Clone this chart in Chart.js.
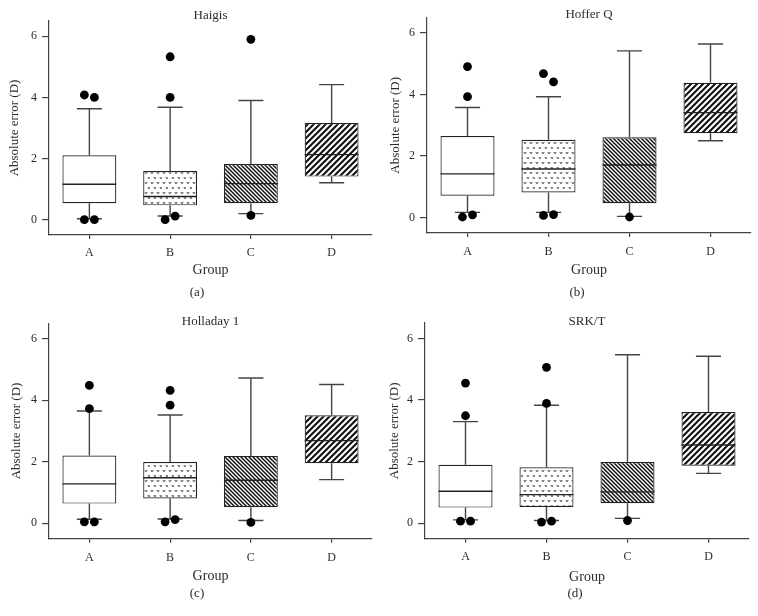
<!DOCTYPE html>
<html>
<head>
<meta charset="utf-8">
<script src="https://cdn.jsdelivr.net/npm/chart.js@4.4.0/dist/chart.umd.min.js"></script>
<style>
body{margin:0;background:#fff;}
#wrap{position:relative;width:758px;height:616px;background:#fff;}
.panel{position:absolute;width:379px;height:308px;}
</style>
</head>
<body>
<div id="wrap">
  <div class="panel" style="left:0;top:0"><canvas id="c0" width="379" height="308"></canvas></div>
  <div class="panel" style="left:379px;top:0"><canvas id="c1" width="379" height="308"></canvas></div>
  <div class="panel" style="left:0;top:308px"><canvas id="c2" width="379" height="308"></canvas></div>
  <div class="panel" style="left:379px;top:308px"><canvas id="c3" width="379" height="308"></canvas></div>
</div>
<script>
var groups = ["A", "B", "C", "D"];
var yTicks = [0, 2, 4, 6];

// Haigis
var haigisLow = [0.03, 0.12, 0.20, 1.21];
var haigisQ1 = [0.54, 0.47, 0.54, 1.41];
var haigisMed = [1.16, 0.76, 1.18, 2.13];
var haigisQ3 = [2.11, 1.59, 1.82, 3.16];
var haigisHigh = [3.63, 3.68, 3.90, 4.42];
var haigisOut = [[4.08, 4.00, 0.00, 0.00], [5.33, 4.00, 0.00, 0.12], [5.90, 0.14], []];

// Hoffer Q
var hofferLow = [0.17, 0.17, 0.04, 2.50];
var hofferQ1 = [0.71, 0.82, 0.47, 2.74];
var hofferMed = [1.42, 1.58, 1.71, 3.41];
var hofferQ3 = [2.65, 2.53, 2.61, 4.38];
var hofferHigh = [3.58, 3.93, 5.42, 5.64];
var hofferOut = [[4.91, 3.93, 0.02, 0.09], [4.68, 4.41, 0.07, 0.10], [0.02], []];

// Holladay 1
var holladayLow = [0.13, 0.14, 0.09, 1.42];
var holladayQ1 = [0.64, 0.81, 0.52, 1.95];
var holladayMed = [1.28, 1.48, 1.40, 2.69];
var holladayQ3 = [2.20, 1.99, 2.19, 3.51];
var holladayHigh = [3.65, 3.52, 4.72, 4.51];
var holladayOut = [[4.48, 3.73, 0.05, 0.05], [4.32, 3.84, 0.05, 0.12], [0.03], []];

// SRK/T
var srktLow = [0.11, 0.09, 0.16, 1.62];
var srktQ1 = [0.51, 0.53, 0.65, 1.87];
var srktMed = [1.04, 0.93, 1.02, 2.54];
var srktQ3 = [1.90, 1.82, 1.99, 3.61];
var srktHigh = [3.30, 3.83, 5.47, 5.42];
var srktOut = [[4.55, 3.49, 0.07, 0.07], [5.06, 3.89, 0.04, 0.07], [0.09], []];

var panels = [
  {id: "c0", name: "Haigis", tag: "(a)", low: haigisLow, q1: haigisQ1, med: haigisMed, q3: haigisQ3, high: haigisHigh, out: haigisOut},
  {id: "c1", name: "Hoffer Q", tag: "(b)", low: hofferLow, q1: hofferQ1, med: hofferMed, q3: hofferQ3, high: hofferHigh, out: hofferOut},
  {id: "c2", name: "Holladay 1", tag: "(c)", low: holladayLow, q1: holladayQ1, med: holladayMed, q3: holladayQ3, high: holladayHigh, out: holladayOut},
  {id: "c3", name: "SRK/T", tag: "(d)", low: srktLow, q1: srktQ1, med: srktMed, q3: srktQ3, high: srktHigh, out: srktOut}
];

// where each plot sits inside its 379x308 cell
var layouts = [
  {left: 49, right: 372, top: 21, bottom: 235, titleY: 15.5, tickY: 253, groupY: 270, capY: 293, capX: 197, yTitleX: 14.7},
  {left: 48, right: 372, top: 17.6, bottom: 233, titleY: 15, tickY: 252, groupY: 270.5, capY: 293, capX: 198, yTitleX: 17},
  {left: 49, right: 372, top: 15.3, bottom: 230.7, titleY: 14, tickY: 250, groupY: 268.5, capY: 285.5, capX: 197, yTitleX: 16.5},
  {left: 46, right: 370, top: 15, bottom: 230.7, titleY: 14, tickY: 249, groupY: 269, capY: 285.5, capX: 196, yTitleX: 15.3}
];

var serif = "'Liberation Serif', 'DejaVu Serif', serif";
var ink = "#2b2b2b";

function tile(w, h, draw) {
  var c = document.createElement("canvas");
  c.width = w; c.height = h;
  var g = c.getContext("2d");
  g.fillStyle = "#fff";
  g.fillRect(0, 0, w, h);
  draw(g);
  return document.createElement("canvas").getContext("2d").createPattern(c, "repeat");
}

var vPattern = tile(6, 10, function(g) {
  g.strokeStyle = "#333"; g.lineWidth = 0.9;
  g.beginPath();
  g.moveTo(0.8, 2); g.lineTo(2, 3.8); g.lineTo(3.2, 2);
  g.moveTo(3.8, 7); g.lineTo(5, 8.8); g.lineTo(6.2, 7);
  g.stroke();
});
var backPattern = tile(4, 4, function(g) {
  g.strokeStyle = "#111"; g.lineWidth = 1.5;
  g.beginPath();
  g.moveTo(-1, -1); g.lineTo(5, 5);
  g.moveTo(-1, 3); g.lineTo(1, 5);
  g.moveTo(3, -1); g.lineTo(5, 1);
  g.stroke();
});
var slashPattern = tile(6, 6, function(g) {
  g.strokeStyle = "#111"; g.lineWidth = 2.1;
  g.beginPath();
  g.moveTo(-1, 7); g.lineTo(7, -1);
  g.moveTo(-1, 1); g.lineTo(1, -1);
  g.moveTo(5, 7); g.lineTo(7, 5);
  g.stroke();
});
var fills = ["#fff", vPattern, backPattern, slashPattern];

// whiskers under the boxes, medians on top
var boxExtras = {
  id: "boxExtras",
  beforeDatasetsDraw: function(chart) {
    var p = chart.config.options.plugins.boxExtras.panel;
    var xs = chart.scales.x, ys = chart.scales.y, ctx = chart.ctx;
    var step = xs.getPixelForValue(1) - xs.getPixelForValue(0);
    ctx.save();
    ctx.strokeStyle = "#444";
    ctx.lineWidth = 1.4;
    for (var i = 0; i < groups.length; i++) {
      var x = xs.getPixelForValue(i);
      var half = step * 0.155;
      ctx.beginPath();
      ctx.moveTo(x, ys.getPixelForValue(p.q3[i])); ctx.lineTo(x, ys.getPixelForValue(p.high[i]));
      ctx.moveTo(x, ys.getPixelForValue(p.q1[i])); ctx.lineTo(x, ys.getPixelForValue(p.low[i]));
      ctx.moveTo(x - half, ys.getPixelForValue(p.high[i])); ctx.lineTo(x + half, ys.getPixelForValue(p.high[i]));
      ctx.moveTo(x - half, ys.getPixelForValue(p.low[i])); ctx.lineTo(x + half, ys.getPixelForValue(p.low[i]));
      ctx.stroke();
    }
    ctx.restore();
  },
  afterDatasetsDraw: function(chart) {
    var p = chart.config.options.plugins.boxExtras.panel;
    var ys = chart.scales.y, ctx = chart.ctx;
    var bars = chart.getDatasetMeta(1).data;
    ctx.save();
    ctx.strokeStyle = "#222";
    ctx.lineWidth = 1.3;
    for (var i = 0; i < bars.length; i++) {
      var b = bars[i];
      var y = ys.getPixelForValue(p.med[i]);
      ctx.beginPath();
      ctx.moveTo(b.x - b.width / 2, y); ctx.lineTo(b.x + b.width / 2, y);
      ctx.stroke();
    }
    ctx.restore();
  }
};

function outlierPoints(out) {
  var pts = [];
  for (var g = 0; g < out.length; g++) {
    var vals = out[g];
    var used = [];
    for (var k = 0; k < vals.length; k++) {
      if (used[k]) continue;
      var mate = -1;
      for (var m = k + 1; m < vals.length; m++) {
        if (!used[m] && Math.abs(vals[m] - vals[k]) < 0.3) { mate = m; break; }
      }
      if (mate >= 0) {
        used[mate] = true;
        pts.push({x: g - 0.062, y: vals[k]});
        pts.push({x: g + 0.062, y: vals[mate]});
      } else {
        pts.push({x: g, y: vals[k]});
      }
    }
  }
  return pts;
}

panels.forEach(function(p, n) {
  var L = layouts[n];
  var padRight = 379 - L.right;
  var padLeft = 2 * L.capX - 379 + padRight;
  var tLine = 13, gLine = 14 * 1.2, sLine = 13 * 1.2, yLine = 13 * 1.2;
  var titlePadTop = L.titleY - tLine / 2;
  var xBottom = L.groupY + gLine / 2;
  var subH = 308 - xBottom;
  var subPadTop = L.capY - xBottom - sLine / 2;

  new Chart(document.getElementById(p.id), {
    type: "bar",
    data: {
      labels: groups,
      datasets: [
        {
          type: "scatter",
          data: outlierPoints(p.out),
          xAxisID: "x2",
          yAxisID: "y",
          backgroundColor: "#000",
          borderColor: "#000",
          pointRadius: 4.4,
          pointBorderWidth: 0,
          order: 0
        },
        {
          type: "bar",
          data: p.q1.map(function(v, i) { return [v, p.q3[i]]; }),
          xAxisID: "x",
          yAxisID: "y",
          backgroundColor: fills,
          borderColor: "#222",
          borderWidth: 1.2,
          borderSkipped: false,
          grouped: false,
          barPercentage: 0.667,
          categoryPercentage: 1,
          order: 1
        }
      ]
    },
    options: {
      responsive: false,
      animation: false,
      events: [],
      layout: {padding: {left: padLeft, right: padRight, top: 0, bottom: 0}},
      plugins: {
        legend: {display: false},
        tooltip: {enabled: false},
        title: {
          display: true, text: p.name, fullSize: false, color: ink,
          font: {family: serif, size: 13, weight: "normal", lineHeight: 1},
          padding: {top: titlePadTop, bottom: L.top - titlePadTop - tLine}
        },
        subtitle: {
          display: true, position: "bottom", text: p.tag, color: ink,
          font: {family: serif, size: 13, weight: "normal", lineHeight: 1.2},
          padding: {top: subPadTop, bottom: subH - sLine - subPadTop}
        },
        boxExtras: {panel: p}
      },
      scales: {
        x: {
          type: "category",
          offset: true,
          afterFit: function(s) { s.height = xBottom - L.bottom; },
          grid: {display: true, offset: false, drawOnChartArea: false, drawTicks: true, tickLength: 4, color: "#444", lineWidth: 1.2},
          border: {display: true, color: "#444", width: 1.2},
          ticks: {color: ink, padding: L.tickY - L.bottom - 4 - 7.2, font: {family: serif, size: 12, lineHeight: 1.2}},
          title: {display: true, text: "Group", color: ink, padding: {top: 0, bottom: 0},
                  font: {family: serif, size: 14, lineHeight: 1.2}}
        },
        // invisible twin of the category axis so outlier dots can sit a little off centre
        x2: {
          type: "linear", position: "top", min: -0.5, max: 3.5, offset: false,
          afterFit: function(s) { s.height = 0; },
          grid: {display: false, drawTicks: false, offset: false},
          border: {display: false},
          ticks: {display: false}
        },
        y: {
          type: "linear",
          min: -0.5, max: 6.5,
          afterFit: function(s) { s.width = L.left - padLeft; },
          afterBuildTicks: function(s) { s.ticks = yTicks.map(function(v) { return {value: v}; }); },
          grid: {display: true, drawOnChartArea: false, drawTicks: true, tickLength: 7, color: "#444", lineWidth: 1.2},
          border: {display: true, color: "#444", width: 1.2},
          ticks: {color: ink, padding: 5, font: {family: serif, size: 12}},
          title: {display: true, text: "Absolute error (D)", color: ink,
                  padding: {top: L.yTitleX - padLeft - yLine / 2, bottom: 0},
                  font: {family: serif, size: 13, lineHeight: 1.2}}
        }
      }
    },
    plugins: [boxExtras]
  });
});
</script>
</body>
</html>
